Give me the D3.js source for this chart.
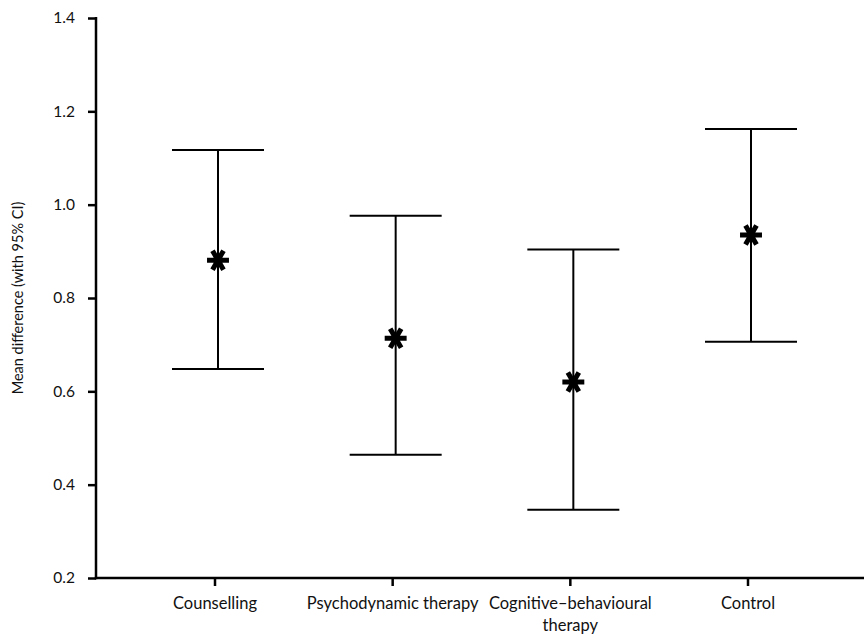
<!DOCTYPE html>
<html><head><meta charset="utf-8">
<script src="https://cdn.jsdelivr.net/npm/d3@7"></script>
<style>body{margin:0;background:#fff}svg{display:block}text{font-family:Lato,"Open Sans",sans-serif;fill:#111}</style>
</head><body><svg id="c" width="864" height="634"></svg>
<script>
const categories = ["Counselling", "Psychodynamic therapy", "Cognitive–behavioural\ntherapy", "Control"];
const means = [0.881, 0.714, 0.620, 0.935];
const lower = [0.648, 0.464, 0.346, 0.706];
const upper = [1.117, 0.976, 0.904, 1.162];
const yTicks = [0.2, 0.4, 0.6, 0.8, 1.0, 1.2, 1.4];
const yLabel = "Mean difference (with 95% CI)";

const svg = d3.select("#c");
const axisX0 = 96, axisX1 = 864, axisY = 578;
const y = d3.scaleLinear().domain([0.2, 1.4]).range([578, 18]);
const x = d3.scalePoint().domain(categories).range([218, 751]);

// y axis
const yAxis = d3.axisLeft(y).tickValues(yTicks).tickFormat(d3.format(".1f")).tickSize(8).tickPadding(13);
const gy = svg.append("g").attr("transform", `translate(${axisX0},0)`).call(yAxis);
gy.select(".domain").remove();
gy.selectAll(".tick line").attr("stroke", "#000").attr("stroke-width", 2.5);
gy.selectAll(".tick text").attr("font-size", 15.5).attr("fill", "#111");
svg.append("line").attr("x1", axisX0).attr("x2", axisX0).attr("y1", y(1.4) - 1).attr("y2", axisY + 1.2)
  .attr("stroke", "#000").attr("stroke-width", 2.5);

// x axis
svg.append("line").attr("x1", axisX0 - 1.2).attr("x2", axisX1).attr("y1", axisY).attr("y2", axisY)
  .attr("stroke", "#000").attr("stroke-width", 2.5);
const gx = svg.append("g");
categories.forEach((c, i) => {
  const px = x(c) - 3;
  gx.append("line").attr("x1", px).attr("x2", px).attr("y1", axisY).attr("y2", axisY + 8)
    .attr("stroke", "#000").attr("stroke-width", 2.5);
  const t = gx.append("text").attr("text-anchor", "middle").attr("font-size", 16.5)
    .attr("x", px).attr("y", axisY + 31);
  c.split("\n").forEach((line, j) => {
    t.append("tspan").attr("x", px).attr("dy", j === 0 ? 0 : 22).text(line);
  });
});

// y label
svg.append("text").attr("transform", `translate(23,${(y(1.4) + y(0.2)) / 2}) rotate(-90)`)
  .attr("text-anchor", "middle").attr("font-size", 14.5).text(yLabel);

// error bars
const capHalf = 46;
const g = svg.append("g");
categories.forEach((c, i) => {
  const cx = x(c);
  g.append("line").attr("x1", cx).attr("x2", cx).attr("y1", y(upper[i])).attr("y2", y(lower[i]))
    .attr("stroke", "#000").attr("stroke-width", 2);
  [upper[i], lower[i]].forEach(v => {
    g.append("line").attr("x1", cx - capHalf).attr("x2", cx + capHalf).attr("y1", y(v)).attr("y2", y(v))
      .attr("stroke", "#000").attr("stroke-width", 2);
  });
  g.append("path").attr("d", d3.symbol().type(d3.symbolAsterisk).size(340)())
    .attr("transform", `translate(${cx},${y(means[i])}) rotate(90)`)
    .attr("fill", "none").attr("stroke", "#000").attr("stroke-width", 5);
});
</script></body></html>
